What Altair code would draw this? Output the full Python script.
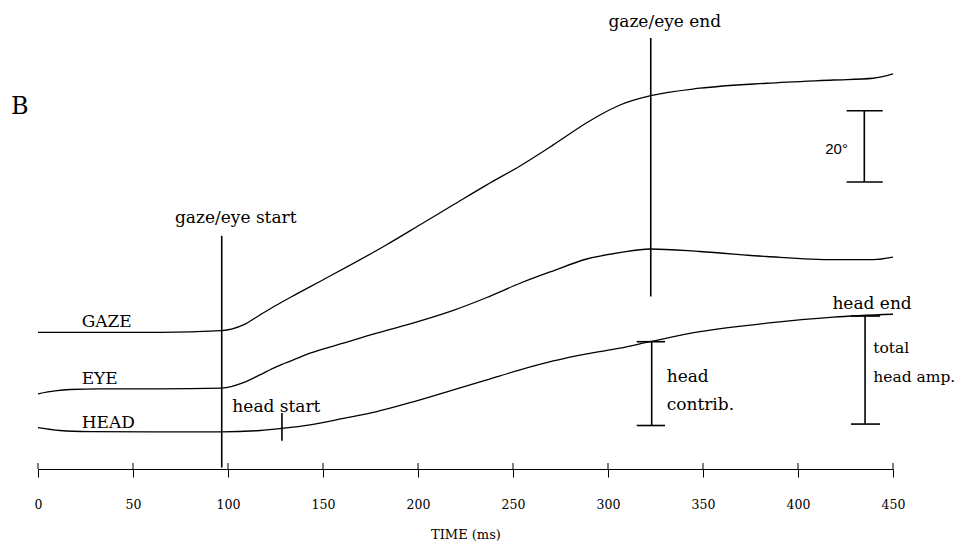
import altair as alt
import pandas as pd

# ---- data (time in ms, vertical position in degrees on the figure's scale) ----
gaze_t = [0, 32.6, 64.2, 96.7, 108.1, 116.8, 125.6, 136.2, 148.4, 183.5, 201.1, 218.6,
          236.2, 253.7, 271.2, 288.8, 295.8, 306.3, 322.5, 348.4, 383.5, 418.6, 439.6, 450]
gaze_deg = [27.9, 27.9, 27.9, 28.4, 30.0, 32.8, 35.6, 38.7, 42.2, 52.5, 58.1, 63.7,
            69.3, 74.6, 80.5, 86.7, 88.9, 91.7, 94.3, 96.4, 97.8, 98.7, 99.2, 100.4]

eye_t = [0, 8.9, 16.8, 32.6, 64.2, 96.7, 108.1, 116.8, 125.6, 134.4, 143.2, 160.7, 178.3,
         195.8, 218.6, 236.2, 253.7, 271.2, 288.8, 306.3, 322.1, 348.4, 383.5, 418.6, 439.6, 450]
eye_deg = [10.7, 11.5, 11.9, 12.1, 12.1, 12.3, 13.8, 16.0, 18.3, 20.2, 22.1, 24.9, 27.7,
           30.3, 34.1, 37.7, 41.7, 45.2, 48.5, 50.3, 51.3, 50.6, 49.2, 48.3, 48.3, 49.0]

head_t = [0, 11.6, 27.4, 58.9, 96.7, 116.8, 128.3, 143.2, 160.7, 178.3, 195.8, 218.6,
          236.2, 253.7, 271.2, 288.8, 306.3, 322.1, 348.4, 383.5, 418.6, 450]
head_deg = [1.2, 0.4, 0.1, 0.0, 0.0, 0.4, 1.0, 2.0, 3.8, 5.7, 8.2, 11.8,
            14.6, 17.4, 19.9, 21.9, 23.5, 25.3, 28.1, 30.5, 32.2, 33.0]

tick_values = [0, 50, 100, 150, 200, 250, 300, 350, 400, 450]

# vertical markers: time, bottom, top
vline_t = [96.7, 322.5, 128.4, 323.0, 435.3, 434.9]
vline_lo = [-10.0, 38.0, -2.5, 1.8, 2.2, 70.1]
vline_hi = [55.0, 110.5, 5.3, 25.3, 32.5, 90.1]

# horizontal caps: start, end, level
cap_t1 = [315.1, 315.1, 427.9, 427.9, 425.6, 425.6]
cap_t2 = [330.0, 330.0, 443.2, 443.2, 444.6, 444.6]
cap_deg = [25.3, 1.8, 32.5, 2.2, 90.1, 70.1]

label_text = ["gaze/eye start", "gaze/eye end", "GAZE", "EYE", "HEAD", "head start",
              "head end", "head", "contrib."]
label_t = [72.1, 300.2, 23.0, 23.0, 23.0, 102.3, 418.1, 330.9, 330.9]
label_deg = [58.6, 113.7, 29.3, 13.4, 1.2, 5.5, 34.4, 14.1, 6.2]

side_text = ["total", "head amp."]
side_t = [439.6, 439.6]
side_deg = [22.2, 14.1]

# ---- tables ----
traces = pd.concat([
    pd.DataFrame({"t": gaze_t, "deg": gaze_deg, "trace": "GAZE"}),
    pd.DataFrame({"t": eye_t, "deg": eye_deg, "trace": "EYE"}),
    pd.DataFrame({"t": head_t, "deg": head_deg, "trace": "HEAD"}),
])
vlines = pd.DataFrame({"t": vline_t, "lo": vline_lo, "hi": vline_hi})
caps = pd.DataFrame({"t": cap_t1, "t2": cap_t2, "deg": cap_deg})
labels = pd.DataFrame({"t": label_t, "deg": label_deg, "label": label_text})
side_labels = pd.DataFrame({"t": side_t, "deg": side_deg, "label": side_text})
ticks = pd.DataFrame({"t": tick_values})
panel = pd.DataFrame({"t": [-14.2], "deg": [89.2], "label": ["B"]})
scale_lbl = pd.DataFrame({"t": [426.3], "deg": [78.0], "label": ["20°"]})

SERIF = "DejaVu Serif"

xscale = alt.Scale(domain=[0, 450], nice=False, zero=False)
yscale = alt.Scale(domain=[-10.4, 118.9], nice=False, zero=False)

xaxis = alt.Axis(values=tick_values, grid=False, tickSize=8, tickColor="black", tickWidth=1,
                 domainColor="black", domainWidth=1, labelFont=SERIF, labelFontSize=12.5,
                 labelColor="black", labelBaseline="alphabetic", labelPadding=31,
                 labelFlush=False, title="TIME (ms)", titleFont=SERIF, titleFontSize=13,
                 titleFontWeight="normal", titleColor="black", titleBaseline="alphabetic",
                 titleY=69)


def X(field="t"):
    return alt.X(f"{field}:Q", scale=xscale, axis=xaxis)


def Y(field="deg"):
    return alt.Y(f"{field}:Q", scale=yscale, axis=None)


lines = alt.Chart(traces).mark_line(color="black", strokeWidth=1.3, interpolate="monotone").encode(
    x=X(), y=Y(), detail="trace:N")

vrules = alt.Chart(vlines).mark_rule(color="black", strokeWidth=1.6).encode(
    x=X(), y=Y("lo"), y2="hi:Q")

hcaps = alt.Chart(caps).mark_rule(color="black", strokeWidth=1.6).encode(
    x=X(), x2="t2:Q", y=Y())

upticks = alt.Chart(ticks).mark_rule(color="black", strokeWidth=1).encode(
    x=X(), y=alt.value(455), y2=alt.value(461))

texts = alt.Chart(labels).mark_text(align="left", baseline="alphabetic", font=SERIF,
                                    fontSize=17, color="black").encode(
    x=X(), y=Y(), text="label:N")

side_txt = alt.Chart(side_labels).mark_text(align="left", baseline="alphabetic", font=SERIF,
                                            fontSize=15.5, color="black").encode(
    x=X(), y=Y(), text="label:N")

panel_txt = alt.Chart(panel).mark_text(align="left", baseline="alphabetic", font=SERIF,
                                       fontSize=24, color="black").encode(
    x=X(), y=Y(), text="label:N")

scale_txt = alt.Chart(scale_lbl).mark_text(align="right", baseline="alphabetic",
                                           font="Liberation Sans", fontSize=15,
                                           color="black").encode(
    x=X(), y=Y(), text="label:N")

chart = alt.layer(lines, vrules, hcaps, upticks, texts, side_txt, panel_txt, scale_txt).properties(
    width=855, height=461,
    padding={"left": 30, "top": 0, "right": 64, "bottom": 74},
    autosize=alt.AutoSizeParams(type="none"),
    background="white",
).configure_view(stroke=None)

chart.save("out.html", embed_options={"renderer": "svg", "actions": False})
